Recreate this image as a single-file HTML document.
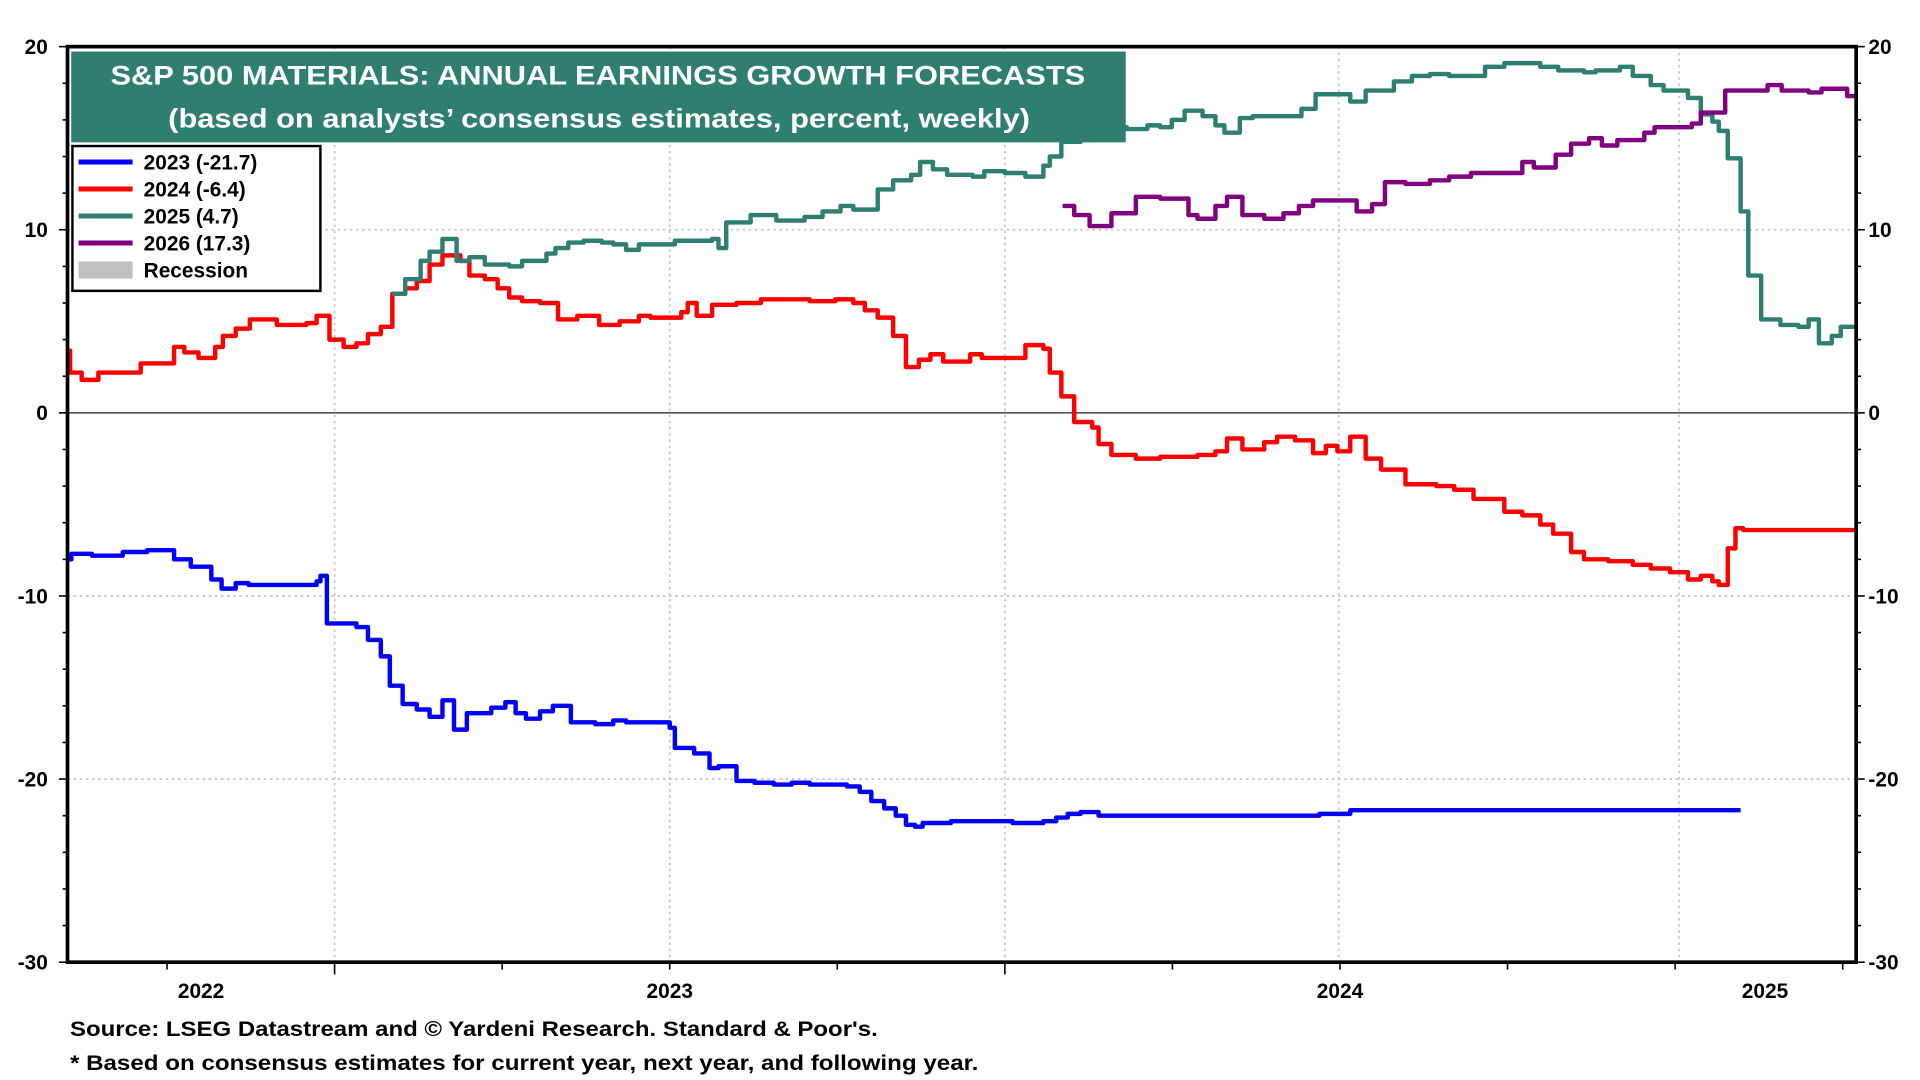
<!DOCTYPE html>
<html><head><meta charset="utf-8"><title>S&amp;P 500 Materials Earnings Growth Forecasts</title>
<style>html,body{margin:0;padding:0;background:#fff;}svg{display:block;font-family:"Liberation Sans",Arial,sans-serif;font-weight:bold;}</style>
</head><body>
<svg id="chart" width="1920" height="1080" viewBox="0 0 1564 880" preserveAspectRatio="none" xmlns="http://www.w3.org/2000/svg">
  <g id="grid"></g>
  <g id="series"></g>
  <g id="axes"></g>
  <g>
    <rect x="58" y="42" width="859" height="74" fill="#2f7f71"/>
    <text x="487" y="69" fill="#fff" font-size="22" text-anchor="middle" textLength="794" lengthAdjust="spacingAndGlyphs">S&amp;P 500 MATERIALS: ANNUAL EARNINGS GROWTH FORECASTS</text>
    <text x="488" y="104" fill="#fff" font-size="22" text-anchor="middle" textLength="702" lengthAdjust="spacingAndGlyphs">(based on analysts’ consensus estimates, percent, weekly)</text>
  </g>
  <g>
    <rect x="59" y="119" width="202" height="118" fill="#fff" stroke="#000" stroke-width="2"/>
    <g><line x1="64" y1="132" x2="108" y2="132" stroke="#0000ff" stroke-width="4"/><text x="117" y="138" font-size="17">2023 (-21.7)</text></g>
    <g><line x1="64" y1="154" x2="108" y2="154" stroke="#ff0000" stroke-width="4"/><text x="117" y="160" font-size="17">2024 (-6.4)</text></g>
    <g><line x1="64" y1="176" x2="108" y2="176" stroke="#2f7f71" stroke-width="4"/><text x="117" y="182" font-size="17">2025 (4.7)</text></g>
    <g><line x1="64" y1="198" x2="108" y2="198" stroke="#800080" stroke-width="4"/><text x="117" y="204" font-size="17">2026 (17.3)</text></g>
    <g><rect x="64" y="213" width="44" height="14" fill="#c0c0c0"/><text x="117" y="226" font-size="17">Recession</text></g>
  </g>
  <text x="57" y="844" font-size="17" textLength="658" lengthAdjust="spacingAndGlyphs">Source: LSEG Datastream and © Yardeni Research. Standard &amp; Poor's.</text>
  <text x="57" y="872" font-size="17" textLength="740" lengthAdjust="spacingAndGlyphs">* Based on consensus estimates for current year, next year, and following year.</text>
</svg>
<script>
// ---- data (x in weeks from left edge of chart, y in percent) ----
const yTicks = [20, 10, 0, -10, -20, -30];
const yearLabels = ["2022", "2023", "2024", "2025"];
const yearLabelWeeks = [10.4, 46.9, 99.1, 132.2];
const yearLineWeeks = [20.8, 46.9, 73, 99, 125.5];
const endWeek = 139.3;

const w2023 = [0,0.3,1.9,4.3,6.2,8.3,9.6,11.2,12,13.1,14.1,19.4,19.7,20.2,22.5,23.4,24.4,25.1,26.1,27.2,28.2,29.2,30.1,31.1,33,34.1,34.9,35.7,36.8,37.8,39.2,41.1,42.5,43.5,46.9,47.3,48.8,50,50.7,52.1,53.5,55,56.4,57.8,60.7,61.7,62.6,63.6,64.5,65.3,66,66.6,68.8,73.6,76,77,77.9,78.9,80.3,97.5,99.9,130.3];
const v2023 = [-8.0,-7.7,-7.8,-7.6,-7.5,-8.0,-8.4,-9.1,-9.6,-9.3,-9.4,-9.2,-8.9,-11.5,-11.7,-12.4,-13.3,-14.9,-15.9,-16.2,-16.6,-15.7,-17.3,-16.4,-16.1,-15.8,-16.4,-16.7,-16.3,-16.0,-16.9,-17.0,-16.8,-16.9,-17.2,-18.3,-18.6,-19.4,-19.3,-20.1,-20.2,-20.3,-20.2,-20.3,-20.4,-20.7,-21.2,-21.6,-22.0,-22.5,-22.6,-22.4,-22.3,-22.4,-22.3,-22.1,-21.9,-21.8,-22.0,-21.9,-21.7,-21.7];

const w2024 = [0,0.2,1.1,2.4,5.7,8.3,9.1,10.2,11.5,12.1,13.1,14.2,16.3,18.6,19.4,20.4,21.5,22.5,23.4,24.4,25.3,26.3,27.2,28.2,29.2,30.6,31.3,32.5,33.5,34.4,35.4,36.8,38.2,39.7,41.4,43,44.5,45.4,47.8,48.3,49,50.2,52.1,54,57.8,59.8,61.2,62.1,63.1,64.3,65.3,66.3,67.2,68.2,70.3,71.2,74.6,76,76.5,77.4,78.4,79.8,80.3,81.3,83.2,85.1,88,89.4,90.3,91.5,93.2,94.2,95.6,97,98,98.9,99.9,101.1,102.3,104.2,106.6,108,109.5,111.9,113.3,114.7,115.7,117.1,118.1,120,121.9,123.3,124.8,126.2,127.2,128.1,128.6,129.3,129.9,130.5,139.3];
const v2024 = [3.4,2.2,1.8,2.2,2.7,3.6,3.3,3.0,3.6,4.2,4.6,5.1,4.8,4.9,5.3,4.0,3.6,3.8,4.3,4.7,6.5,6.8,7.2,8.1,8.6,8.3,7.5,7.3,6.8,6.3,6.1,6.0,5.1,5.3,4.8,5.0,5.3,5.2,5.5,6.0,5.3,5.9,6.0,6.2,6.1,6.2,6.0,5.6,5.2,4.2,2.5,2.9,3.2,2.8,3.2,3.0,3.7,3.5,2.2,0.9,-0.5,-0.8,-1.7,-2.3,-2.5,-2.4,-2.3,-2.1,-1.4,-2.0,-1.6,-1.3,-1.5,-2.2,-1.8,-2.1,-1.3,-2.5,-3.1,-3.9,-4.0,-4.2,-4.7,-5.4,-5.6,-6.1,-6.6,-7.6,-8.0,-8.1,-8.3,-8.5,-8.7,-9.1,-8.9,-9.2,-9.4,-7.4,-6.3,-6.4,-6.4];

const w2025 = [25.3,26.3,27.5,28.2,29.2,30.3,31.3,32.5,34.4,35.4,37.3,38,39,40.2,41.6,42.5,43.5,44.5,47.3,50.2,50.7,51.3,53.2,55.2,57.4,58.8,60.2,61.2,63.1,64.3,65.7,66.4,67.4,68.5,70.5,71.4,73,74.6,76,76.5,77.4,78.9,79.6,80.3,82.5,84.1,85.1,86,87,88.4,89.4,90.1,91.3,92.3,96.1,97.2,99.9,101.1,103.3,104.7,106.1,107.6,110.4,111.9,114.7,116.1,118.1,119,120.9,121.9,123.3,124.3,126.2,127.2,128.1,128.6,129.3,130.3,130.9,131.9,133.4,134.8,135.6,136.4,137.4,138.1,139.3];
const v2025 = [6.5,7.3,8.3,8.8,9.5,8.3,8.5,8.1,8.0,8.3,8.7,9.0,9.3,9.4,9.3,9.2,8.9,9.2,9.4,9.5,9.0,10.4,10.8,10.5,10.7,11.0,11.3,11.1,12.2,12.7,13.0,13.7,13.3,13.0,12.9,13.2,13.1,12.9,13.5,14.0,14.8,15.4,14.9,15.6,15.5,15.7,15.6,16.0,16.5,16.2,15.7,15.3,16.1,16.2,16.6,17.4,17.0,17.6,18.1,18.4,18.5,18.4,18.9,19.1,18.9,18.7,18.6,18.7,18.9,18.4,17.9,17.6,17.2,16.3,15.9,15.4,13.9,11.0,7.5,5.1,4.8,4.7,5.1,3.8,4.2,4.7,4.7];

const w2026 = [77.5,78.4,79.6,81.3,83.2,85.1,87.3,88,89.4,90.3,91.5,93.2,94.7,95.9,97,100.4,101.6,102.6,104.2,106.1,107.6,109.3,113.3,114.2,115.9,117.1,118.5,119.5,120.7,122.8,123.6,126.5,127.2,129.1,132.4,133.5,135.6,136.6,138.6,139.3];
const v2026 = [11.3,10.8,10.2,10.9,11.8,11.7,10.8,10.6,11.3,11.8,10.8,10.6,10.9,11.3,11.6,11.0,11.4,12.6,12.5,12.7,12.9,13.1,13.7,13.4,14.1,14.7,15.0,14.6,14.9,15.3,15.6,15.8,16.4,17.6,17.9,17.6,17.5,17.7,17.3,17.3];

// ---- scales ----
const PL = 55, PR = 1512, PT = 38, PB = 784;
const Y_MAX = 20, Y_MIN = -30;
function xs(w) { return PL + (w / endWeek) * (PR - PL); }
function ys(v) { return PT + (Y_MAX - v) / (Y_MAX - Y_MIN) * (PB - PT); }

const NS = "http://www.w3.org/2000/svg";
function mk(tag, attrs, parent) {
  const e = document.createElementNS(NS, tag);
  for (const k in attrs) e.setAttribute(k, attrs[k]);
  parent.appendChild(e);
  return e;
}
const grid = document.getElementById('grid');
const axes = document.getElementById('axes');
const series = document.getElementById('series');

// horizontal gridlines
yTicks.forEach(function (t) {
  if (t === Y_MAX || t === Y_MIN) return;
  const l = mk('line', {x1: PL, x2: PR, y1: ys(t), y2: ys(t), stroke: t === 0 ? '#555' : '#c8c8c8', 'stroke-width': t === 0 ? 1.3 : 1.5, 'stroke-dasharray': t === 0 ? '' : '2,3'}, grid);
  
  
});
// vertical gridlines
yearLineWeeks.forEach(function (w) {
  const l = mk('line', {x1: xs(w), x2: xs(w), y1: PT, y2: PB, stroke: '#c8c8c8', 'stroke-width': 1.5, 'stroke-dasharray': '2,3'}, grid);
  
  
});

// series
function drawStep(ws, vs, color, name) {
  let d = 'M' + xs(ws[0]) + ',' + ys(vs[0]);
  for (let i = 1; i < ws.length; i++) {
    d += ' H' + xs(ws[i]) + ' V' + ys(vs[i]);
  }
  const p = mk('path', {d: d, fill: 'none', stroke: color, 'stroke-width': 3.6, 'stroke-linejoin': 'round'}, series);
  
  
}
drawStep(w2024, v2024, '#ff0000', 'line-2024');
drawStep(w2023, v2023, '#0000ff', 'line-2023');
drawStep(w2025, v2025, '#2f7f71', 'line-2025');
drawStep(w2026, v2026, '#800080', 'line-2026');

// frame
const frame = mk('rect', {x: PL, y: PT, width: PR - PL, height: PB - PT, fill: 'none', stroke: '#000', 'stroke-width': 3}, axes);



// y ticks & labels
for (let v = Y_MIN; v <= Y_MAX; v += 2) {
  const major = v % 10 === 0;
  const len = major ? 7 : 4;
  mk('line', {x1: PL - len, x2: PL, y1: ys(v), y2: ys(v), stroke: '#000', 'stroke-width': 1.3}, axes);
  mk('line', {x1: PR, x2: PR + len, y1: ys(v), y2: ys(v), stroke: '#000', 'stroke-width': 1.3}, axes);
}
yTicks.forEach(function (t) {
  const a = mk('text', {x: PL - 16, y: ys(t) + 6, 'font-size': 17, 'text-anchor': 'end'}, axes);
  a.textContent = String(t);
  
  
  const b = mk('text', {x: PR + 10, y: ys(t) + 6, 'font-size': 17, 'text-anchor': 'start'}, axes);
  b.textContent = String(t);
  
  
});

// x ticks (quarters) and year labels
const quarterW = (yearLineWeeks[2] - yearLineWeeks[0]) / 4;
for (let w = yearLineWeeks[0] - quarterW; w < endWeek; w += quarterW) {
  if (w <= 0) continue;
  const isYear = Math.abs(((w - yearLineWeeks[0]) / quarterW) % 4) < 0.01;
  mk('line', {x1: xs(w), x2: xs(w), y1: PB, y2: PB + (isYear ? 10 : 6), stroke: '#000', 'stroke-width': 1.3}, axes);
}
yearLabels.forEach(function (lab, i) {
  const t = mk('text', {x: xs(yearLabelWeeks[i]), y: 813, 'font-size': 17, 'text-anchor': 'middle'}, axes);
  t.textContent = lab;
  
  
});
</script>
</body></html>
